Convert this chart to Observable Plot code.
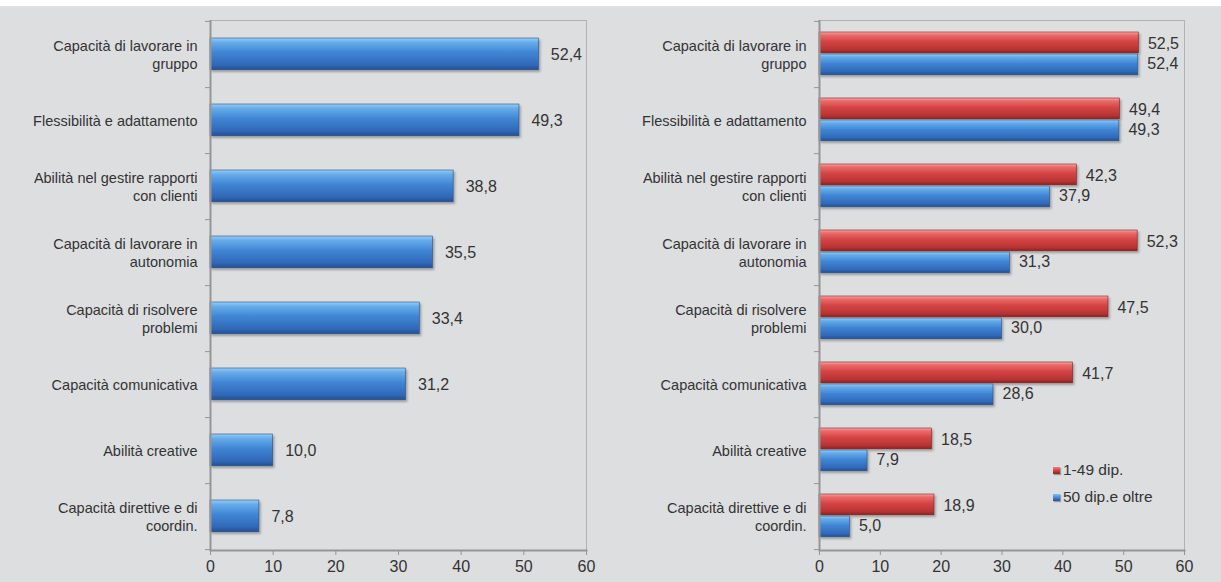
<!DOCTYPE html>
<html><head><meta charset="utf-8">
<script src="https://cdn.jsdelivr.net/npm/d3@7"></script>
<script src="https://cdn.jsdelivr.net/npm/@observablehq/plot@0.6"></script>
<style>
body{margin:0;background:#fff;}
#wrap{position:relative;width:1221px;height:582px;overflow:hidden;}
#bg{position:absolute;left:0;top:6px;width:1221px;height:576px;background:#dddee0;}
#left,#right{position:absolute;top:0;}
#left{left:0;} #right{left:610px;}
.lg{position:absolute;left:1053px;height:18px;display:flex;align-items:center;font:15.5px "Liberation Sans",Arial,sans-serif;color:#333;white-space:nowrap;}
.sw{width:7px;height:7px;margin-right:3px;box-shadow:1px 1px 1px rgba(0,0,0,0.3);}
</style></head><body>
<svg width="0" height="0" style="position:absolute">
<defs>
<linearGradient id="gBlue" x1="0" y1="0" x2="0" y2="1">
 <stop offset="0" stop-color="#92cdf6"/>
 <stop offset="0.14" stop-color="#66acea"/>
 <stop offset="0.45" stop-color="#4086d5"/>
 <stop offset="0.85" stop-color="#3068b8"/>
 <stop offset="1" stop-color="#23508e"/>
</linearGradient>
<linearGradient id="gRed" x1="0" y1="0" x2="0" y2="1">
 <stop offset="0" stop-color="#f8a8a8"/>
 <stop offset="0.14" stop-color="#ec6a6a"/>
 <stop offset="0.45" stop-color="#d44545"/>
 <stop offset="0.85" stop-color="#b83333"/>
 <stop offset="1" stop-color="#862222"/>
</linearGradient>
<filter id="shadow" x="-5%" y="-20%" width="115%" height="160%">
 <feDropShadow dx="1.5" dy="2" stdDeviation="1.2" flood-color="#000" flood-opacity="0.3"/>
</filter>
</defs></svg>
<div id="wrap">
 <div id="bg"></div>
 <div id="left"></div>
 <div id="right"></div>
 <div class="lg" style="top:461px"><div class="sw" style="background:linear-gradient(#f08080,#c43a3a 60%,#8a2424)"></div><span id="lg1"></span></div>
 <div class="lg" style="top:488px"><div class="sw" style="background:linear-gradient(#80c0f0,#3a7fd0 60%,#24508f)"></div><span id="lg2"></span></div>
</div>
<script>
const categories = [
  "Capacità di lavorare in\ngruppo",
  "Flessibilità e adattamento",
  "Abilità nel gestire rapporti\ncon clienti",
  "Capacità di lavorare in\nautonomia",
  "Capacità di risolvere\nproblemi",
  "Capacità comunicativa",
  "Abilità creative",
  "Capacità direttive e di\ncoordin."
];
const totalValues = [52.4, 49.3, 38.8, 35.5, 33.4, 31.2, 10.0, 7.8];
const smallFirmValues = [52.5, 49.4, 42.3, 52.3, 47.5, 41.7, 18.5, 18.9];
const largeFirmValues = [52.4, 49.3, 37.9, 31.3, 30.0, 28.6, 7.9, 5.0];
const seriesNames = ["1-49 dip.", "50 dip.e oltre"];
const xTicks = [0, 10, 20, 30, 40, 50, 60];

const fmt = v => v.toFixed(1).replace(".", ",");
const H = 582, MT = 20, MB = 32;
const bw = (H - MT - MB) / categories.length;
const font = "Liberation Sans, Arial, sans-serif";

const leftData = categories.map((c, i) => ({category: c, value: totalValues[i]}));
const smallData = categories.map((c, i) => ({category: c, value: smallFirmValues[i], series: seriesNames[0]}));
const largeData = categories.map((c, i) => ({category: c, value: largeFirmValues[i], series: seriesNames[1]}));

function panel(width, marginLeft, marginRight, marks) {
  return Plot.plot({
    width, height: H, marginTop: MT, marginBottom: MB, marginLeft, marginRight,
    style: {background: "transparent", fontFamily: font, fontSize: "14px", color: "#333", overflow: "visible"},
    x: {domain: [0, 60], label: null},
    y: {domain: categories, padding: 0, label: null},
    marks: [
      Plot.frame({stroke: "#b2b2b2"}),
      ...marks,
      Plot.frame({anchor: "bottom", stroke: "#959595", strokeWidth: 2}),
      Plot.ruleX([0], {stroke: "#959595", strokeWidth: 2}),
      Plot.axisX({ticks: xTicks, tickSize: 5, tickPadding: 5, stroke: "#959595", fill: "#333", fontSize: 16, label: null, tickFormat: d => String(d)}),
      Plot.axisY({tickSize: 0, tickPadding: 13, lineHeight: 1.2, fontSize: 14.5, fill: "#333", label: null, tickFormat: d => d}),
      Plot.axisY({tickSize: 5, tickFormat: () => "", dy: bw / 2, stroke: "#959595", label: null}),
      Plot.axisY([categories[0]], {tickSize: 5, tickFormat: () => "", dy: -bw / 2, stroke: "#959595", label: null})
    ]
  });
}

const left = panel(610, 210, 24, [
  Plot.barX(leftData, {x: "value", y: "category", fill: "url(#gBlue)", stroke: "#2a4e86", strokeWidth: 0.6, insetTop: 17, insetBottom: 17.25}),
  Plot.text(leftData, {x: "value", y: "category", text: d => fmt(d.value), textAnchor: "start", dx: 12, fontSize: 16, fill: "#333"})
]);

const right = panel(611, 209, 37, [
  Plot.barX(smallData, {x: "value", y: "category", fill: "url(#gRed)", stroke: "#7e2020", strokeWidth: 0.6, insetTop: 11, insetBottom: bw - 32}),
  Plot.barX(largeData, {x: "value", y: "category", fill: "url(#gBlue)", stroke: "#2a4e86", strokeWidth: 0.6, insetTop: 33, insetBottom: bw - 54}),
  Plot.text(smallData, {x: "value", y: "category", text: d => fmt(d.value), textAnchor: "start", dx: 9, dy: -11, fontSize: 16, fill: "#333"}),
  Plot.text(largeData, {x: "value", y: "category", text: d => fmt(d.value), textAnchor: "start", dx: 9, dy: 9, fontSize: 16, fill: "#333"})
]);

for (const svg of [left, right]) {
  svg.querySelectorAll('g[aria-label="bar"]').forEach(g => g.setAttribute("filter", "url(#shadow)"));
}
document.getElementById("left").appendChild(left);
document.getElementById("right").appendChild(right);
document.getElementById("lg1").textContent = seriesNames[0];
document.getElementById("lg2").textContent = seriesNames[1];
</script>
</body></html>
